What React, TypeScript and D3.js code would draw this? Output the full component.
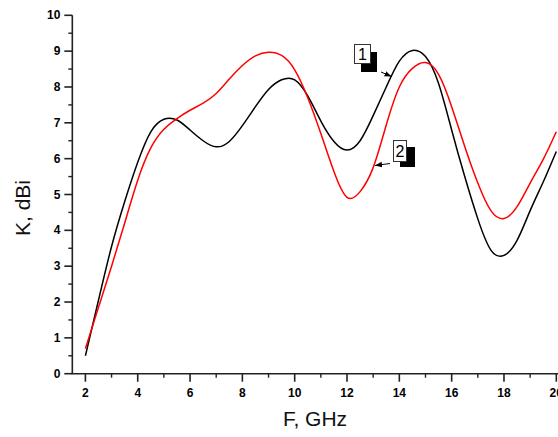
import * as d3 from "d3";

const W = 558;
const H = 437;

// frequency grid, GHz
const freq = [
  2, 2.5, 3, 3.5, 4, 4.5, 5, 5.5, 6, 6.5, 7, 7.5, 8, 8.5, 9, 9.5, 10, 10.5, 11,
  11.5, 12, 12.5, 13, 13.5, 14, 14.5, 15, 15.5, 16, 16.5, 17, 17.5, 18, 18.5,
  19, 19.5, 20,
];

// curve 1 (black), dBi
const gain1 = [
  0.5, 2.05, 3.55, 4.8, 5.9, 6.75, 7.1, 7.08, 6.8, 6.5, 6.33, 6.48, 6.92, 7.45,
  7.93, 8.2, 8.2, 7.75, 7.05, 6.48, 6.24, 6.5, 7.2, 8.0, 8.72, 9.02, 8.85,
  8.1, 6.8, 5.5, 4.32, 3.45, 3.3, 3.72, 4.55, 5.35, 6.2,
];

// curve 2 (red), dBi
const gain2 = [
  0.7, 1.85, 3.0, 4.2, 5.4, 6.3, 6.82, 7.12, 7.35, 7.55, 7.82, 8.22, 8.6, 8.87,
  8.97, 8.88, 8.48, 7.7, 6.7, 5.64, 4.92, 5.08, 5.75, 6.94, 8.0, 8.52, 8.68,
  8.35, 7.45, 6.34, 5.32, 4.55, 4.33, 4.66, 5.32, 5.98, 6.75,
];

const xTicks = [2, 4, 6, 8, 10, 12, 14, 16, 18, 20];
const xMinor = [3, 5, 7, 9, 11, 13, 15, 17, 19];
const yTicks = [0, 1, 2, 3, 4, 5, 6, 7, 8, 9, 10];

const x = d3.scaleLinear().domain([2, 20]).range([85.4, 556.3]);
const y = d3.scaleLinear().domain([0, 10]).range([373.7, 15.3]);

const AXIS = "#222";
const FONT = "Liberation Sans, Arial, sans-serif";
const tickFont = { fontFamily: FONT, fontSize: 12, fontWeight: 700 };

export default function App() {
  const line = d3
    .line<number>()
    .x((_, i) => x(freq[i]))
    .y((d) => y(d))
    .curve(d3.curveNatural);

  const yMinor = d3.range(0.5, 10, 1);
  const x0 = x(1.5);
  const y0 = y(0);

  return (
    <svg
      width={W}
      height={H}
      style={{ position: "fixed", left: 0, top: 0, background: "#fff" }}
    >
      <defs>
        <marker id="ah" viewBox="0 0 10 10" refX="10" refY="5" markerWidth="7" markerHeight="7" orient="auto">
          <path d="M0,1 L10,5 L0,9 Z" fill="#000" />
        </marker>
      </defs>

      {/* curves */}
      <path d={line(gain1) || ""} fill="none" stroke="#000" strokeWidth={1.5} />
      <path d={line(gain2) || ""} fill="none" stroke="#ff0000" strokeWidth={1.5} />

      {/* y axis */}
      <line x1={x0} x2={x0} y1={y(10)} y2={y0} stroke={AXIS} strokeWidth={1.6} />
      {yTicks.map((t) => (
        <g key={"y" + t}>
          <line x1={x0 - 8} x2={x0} y1={y(t)} y2={y(t)} stroke={AXIS} strokeWidth={1.6} />
          <text x={x0 - 12} y={y(t)} textAnchor="end" dominantBaseline="central" {...tickFont}>
            {t}
          </text>
        </g>
      ))}
      {yMinor.map((t) => (
        <line key={"ym" + t} x1={x0 - 4} x2={x0} y1={y(t)} y2={y(t)} stroke={AXIS} strokeWidth={1.4} />
      ))}

      {/* x axis */}
      <line x1={x0 - 0.8} x2={W} y1={y0} y2={y0} stroke={AXIS} strokeWidth={1.6} />
      {xTicks.map((t) => (
        <g key={"x" + t}>
          <line x1={x(t)} x2={x(t)} y1={y0} y2={y0 + 8} stroke={AXIS} strokeWidth={1.6} />
          <text x={x(t)} y={y0 + 19} textAnchor="middle" dominantBaseline="central" {...tickFont}>
            {t}
          </text>
        </g>
      ))}
      {xMinor.map((t) => (
        <line key={"xm" + t} x1={x(t)} x2={x(t)} y1={y0} y2={y0 + 4} stroke={AXIS} strokeWidth={1.4} />
      ))}

      {/* axis titles */}
      <text x={315} y={426} textAnchor="middle" fontFamily={FONT} fontSize={21} fill="#111">
        F, GHz
      </text>
      <text transform="translate(30,208) rotate(-90)" textAnchor="middle" fontFamily={FONT} fontSize={21} fill="#111">
        K, dBi
      </text>

      {/* curve labels */}
      <rect x={361} y={52} width={16} height={20} fill="#000" />
      <rect x={354.5} y={44.5} width={16} height={19} fill="#fff" stroke="#333" strokeWidth={1} />
      <text x={362.5} y={54.5} textAnchor="middle" dominantBaseline="central" fontFamily={FONT} fontSize={16}>
        1
      </text>
      <line x1={381} y1={72} x2={391.5} y2={76.5} stroke="#000" strokeWidth={1} markerEnd="url(#ah)" />

      <rect x={400} y={147} width={15} height={20} fill="#000" />
      <rect x={393.5} y={140.5} width={13} height={21} fill="#fff" stroke="#333" strokeWidth={1} />
      <text x={400} y={151.5} textAnchor="middle" dominantBaseline="central" fontFamily={FONT} fontSize={16}>
        2
      </text>
      <line x1={390} y1={163.5} x2={375} y2={165.5} stroke="#000" strokeWidth={1} markerEnd="url(#ah)" />
    </svg>
  );
}
